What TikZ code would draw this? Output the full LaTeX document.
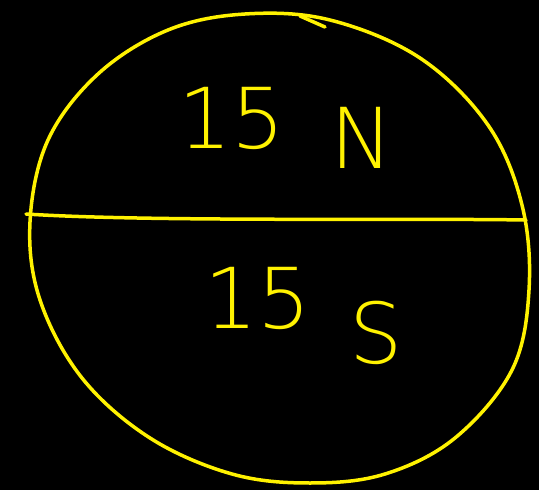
\documentclass[tikz,border=0pt]{standalone}
\usepackage{fontspec}
\setmainfont{DejaVu Sans}
\begin{document}
\begin{tikzpicture}[x=1pt,y=-1pt,
  pen/.style={draw=yellow,line width=3.5pt,line cap=round,line join=round},
  lab/.style={text=yellow,font=\fontsize{84}{84}\selectfont\fontspec{DejaVu Sans ExtraLight}}]
\fill[black] (0,0) rectangle (539,490);
\useasboundingbox (0,0) rectangle (539,490);
\draw[pen] plot[smooth cycle,tension=0.6] coordinates {
 (245,14) (330,20) (420,58) (488,125) (522,205) (529,290) (512,370)
 (455,438) (385,474) (310,483) (232,474) (150,438) (82,378) (40,300)
 (30,222) (48,140) (98,74) (168,30)};
\draw[pen] (300,16) -- (325,27);
\coordinate (L) at (26,214);
\coordinate (R) at (526,220);
\draw[pen] (L) .. controls (150,222) and (400,218) .. (R);
\node[lab] (n15) at (232,118) {15};
\node[lab] (N) at (362,138) {N};
\node[lab] (s15) at (258,298) {15};
\node[lab] (S) at (376,333) {S};
\end{tikzpicture}
\end{document}
